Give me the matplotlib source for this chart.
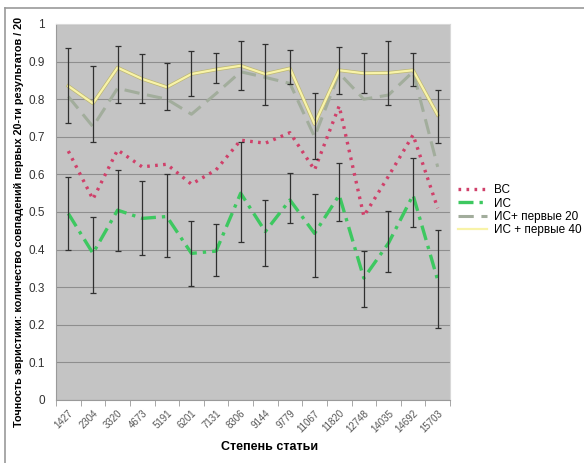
import numpy as np
import matplotlib.pyplot as plt
from matplotlib.lines import Line2D

plt.rcParams['font.family'] = ['Liberation Sans', 'DejaVu Sans']

# степень статьи (категории по оси X)
stepen = ['1427', '2304', '3320', '4673', '5191', '6201', '7131', '8306',
          '9144', '9779', '11067', '11820', '12748', '14035', '14692', '15703']

# ВС
vs = [0.662, 0.534, 0.665, 0.620, 0.627, 0.574, 0.612, 0.691,
      0.683, 0.711, 0.612, 0.782, 0.489, 0.595, 0.705, 0.510]
# ИС
is_ = [0.496, 0.390, 0.505, 0.483, 0.488, 0.390, 0.396, 0.550,
       0.448, 0.532, 0.443, 0.545, 0.324, 0.417, 0.545, 0.319]
is_low = [0.399, 0.284, 0.397, 0.386, 0.381, 0.303, 0.331, 0.419,
          0.357, 0.472, 0.326, 0.477, 0.248, 0.340, 0.459, 0.191]
is_high = [0.594, 0.488, 0.612, 0.583, 0.601, 0.475, 0.467, 0.687,
           0.532, 0.605, 0.547, 0.629, 0.396, 0.503, 0.643, 0.452]
# ИС+ первые 20
is20 = [0.807, 0.727, 0.829, 0.814, 0.800, 0.760, 0.815, 0.873,
        0.858, 0.842, 0.700, 0.869, 0.800, 0.811, 0.873, 0.620]
# ИС + первые 40
is40 = [0.835, 0.789, 0.884, 0.854, 0.832, 0.867, 0.879, 0.889,
        0.867, 0.882, 0.734, 0.877, 0.869, 0.870, 0.877, 0.758]
is40_low = [0.737, 0.687, 0.789, 0.789, 0.771, 0.808, 0.842, 0.824,
            0.784, 0.840, 0.640, 0.814, 0.816, 0.784, 0.835, 0.683]
is40_high = [0.937, 0.889, 0.942, 0.920, 0.897, 0.928, 0.923, 0.956,
             0.948, 0.930, 0.817, 0.939, 0.922, 0.954, 0.922, 0.824]

x = np.arange(len(stepen))

fig = plt.figure(figsize=(5.84, 4.63), dpi=100)
ax = fig.add_axes([56/584, 1 - 400/463, 394/584, 376/463])
ax.set_facecolor('#c4c4c4')

ax.plot(x, vs, color='#d0406a', linestyle=(0, (0.8, 1.6)), linewidth=2.4,
        label='ВС', zorder=3)
ax.plot(x, is_, color='#3dc860', linestyle=(0, (4.5, 1.8, 1, 1.8)), linewidth=2.4,
        label='ИС', zorder=3)
ax.plot(x, is20, color='#a2ad9c', linestyle=(0, (5, 2.5)), linewidth=2.2,
        label='ИС+ первые 20', zorder=3)
ax.plot(x, is40, color='#bdb772', linewidth=2.6, zorder=3)
ax.plot(x, is40, color='#f8f3a8', linewidth=1.6, label='ИС + первые 40', zorder=3)

is_ = np.array(is_)
is40 = np.array(is40)
ax.errorbar(x, is_, yerr=[is_ - np.array(is_low), np.array(is_high) - is_],
            fmt='none', ecolor='#303030', elinewidth=0.9, capsize=2.5,
            capthick=0.9, zorder=4)
ax.errorbar(x, is40, yerr=[is40 - np.array(is40_low), np.array(is40_high) - is40],
            fmt='none', ecolor='#303030', elinewidth=0.9, capsize=2.5,
            capthick=0.9, zorder=4)

ax.set_xlim(-0.5, len(stepen) - 0.5)
ax.set_ylim(0, 1)
ax.set_yticks(np.arange(0, 1.01, 0.1))
ax.set_yticklabels(['0', '0.1', '0.2', '0.3', '0.4', '0.5', '0.6', '0.7',
                    '0.8', '0.9', '1'])
ax.yaxis.grid(True, color='#8e8e8e', linewidth=0.8)
ax.set_axisbelow(True)

ax.set_xticks(x)
ax.set_xticklabels(stepen, rotation=45, ha='right', rotation_mode='anchor',
                   fontsize=7, color='#555555')
ax.set_xticks(np.arange(-0.5, len(stepen), 1), minor=True)
ax.tick_params(axis='x', which='major', length=0, pad=6)
ax.tick_params(axis='x', which='minor', length=4, color='#999999')
ax.tick_params(axis='y', length=0, labelsize=8.5, labelcolor='#333333', pad=8)

for s in ['top', 'right']:
    ax.spines[s].set_color('#d8d8d8')
for s in ['left', 'bottom']:
    ax.spines[s].set_color('#9a9a9a')

ax.set_xlabel('Степень статьи', fontsize=9, fontweight='bold')
ax.xaxis.set_label_coords(0.543, -0.11)
ax.set_ylabel('Точность эвристики: количество совпадений первых 20-ти результатов / 20',
              fontsize=7.8, fontweight='bold')
ax.yaxis.set_label_coords(-0.081, 0.473)

ax.legend(loc='center left', bbox_to_anchor=(1.0, 0.505), frameon=False,
          fontsize=8.5, handlelength=2.4, labelspacing=0.1, handletextpad=0.6,
          borderaxespad=0.3)

# рамка вокруг рисунка
fig.add_artist(Line2D([5/584, 1], [1 - 8/463, 1 - 8/463], color='#9a9a9a', linewidth=1.2))
fig.add_artist(Line2D([5/584, 5/584], [0, 1 - 8/463], color='#9a9a9a', linewidth=1.2))

plt.savefig('out.png', dpi=100)
plt.close()
